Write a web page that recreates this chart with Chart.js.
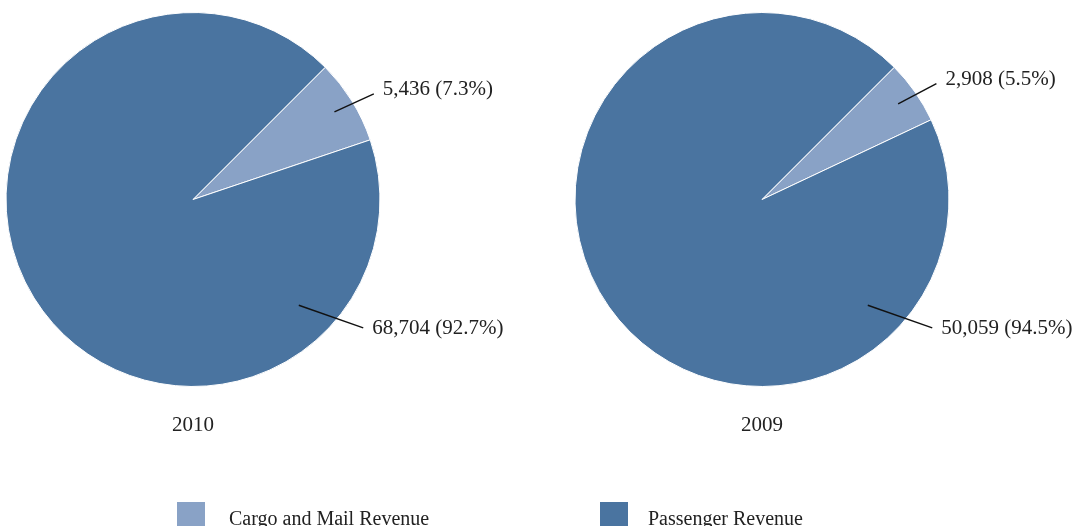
<!DOCTYPE html>
<html>
<head>
<meta charset="utf-8">
<script src="https://cdn.jsdelivr.net/npm/chart.js@4/dist/chart.umd.min.js"></script>
<style>
  html, body { margin: 0; padding: 0; background: #fff; }
  #page { position: relative; width: 1075px; height: 526px; overflow: hidden; font-family: "Liberation Serif", "DejaVu Serif", serif; color: #222; }
  .pie { position: absolute; top: 0; }
  #legend { position: absolute; left: 0; top: 0; width: 1075px; height: 526px; pointer-events: none; }
  .item { position: absolute; top: 502px; height: 28px; }
  .swatch { position: absolute; left: 0; top: 0; width: 28px; height: 28px; }
  .item span { position: absolute; top: 2px; font-size: 20px; line-height: 28px; white-space: nowrap; }
</style>
</head>
<body>
<div id="page">
  <canvas id="pieLeft" class="pie" width="540" height="526" style="left:0"></canvas>
  <canvas id="pieRight" class="pie" width="535" height="526" style="left:540px"></canvas>
  <div id="legend"></div>
</div>
<script>
const years = ['2010', '2009'];
const categories = ['Cargo and Mail Revenue', 'Passenger Revenue'];
const revenue2010 = [5436, 68704];
const revenue2009 = [2908, 50059];
const sliceColors = ['#89a2c6', '#4a74a0'];

const serif = '"Liberation Serif", "DejaVu Serif", serif';

// value + share labels with a short leader line, and the year under the pie
const leaderLabels = {
  id: 'leaderLabels',
  afterDatasetsDraw(chart, args, opts) {
    const ctx = chart.ctx;
    const values = chart.data.datasets[0].data;
    const total = values.reduce((a, b) => a + b, 0);
    const arcs = chart.getDatasetMeta(0).data;
    let cx = 0, cy = 0, r = 0;
    ctx.save();
    ctx.font = '21px ' + serif;
    ctx.fillStyle = '#222';
    ctx.strokeStyle = '#111';
    ctx.lineWidth = 1.4;
    arcs.forEach((arc, i) => {
      const p = arc.getProps(['x', 'y', 'startAngle', 'endAngle', 'outerRadius'], true);
      cx = p.x; cy = p.y; r = p.outerRadius;
      const spec = opts.leaders[i];
      const a = spec.angle == null ? (p.startAngle + p.endAngle) / 2 : spec.angle * Math.PI / 180;
      const b = a + spec.turn * Math.PI / 180;
      const x1 = cx + Math.cos(a) * r * spec.inner;
      const y1 = cy + Math.sin(a) * r * spec.inner;
      const x2 = cx + Math.cos(b) * r * spec.outer;
      const y2 = cy + Math.sin(b) * r * spec.outer;
      ctx.beginPath();
      ctx.moveTo(x1, y1);
      ctx.lineTo(x2, y2);
      ctx.stroke();
      const pct = (values[i] / total * 100).toFixed(1);
      const text = values[i].toLocaleString('en-US') + ' (' + pct + '%)';
      ctx.textAlign = 'left';
      ctx.textBaseline = y2 < cy ? 'alphabetic' : 'middle';
      ctx.fillText(text, x2 + 9, y2 + 1);
    });
    ctx.textAlign = 'center';
    ctx.textBaseline = 'alphabetic';
    ctx.fillText(opts.year, cx, cy + r + 44);
    ctx.restore();
  }
};

function makePie(id, year, values, padding) {
  return new Chart(document.getElementById(id), {
    type: 'pie',
    data: {
      labels: categories,
      datasets: [{
        data: values,
        backgroundColor: sliceColors,
        borderColor: '#ffffff',
        borderWidth: 1
      }]
    },
    options: {
      responsive: false,
      animation: false,
      events: [],
      rotation: 45,
      layout: { padding: padding },
      plugins: {
        legend: { display: false },
        tooltip: { enabled: false },
        leaderLabels: {
          year: year,
          leaders: [
            { angle: null, inner: 0.89, outer: 1.12, turn: 1.5 },
            { angle: 45, inner: 0.8, outer: 1.14, turn: -8 }
          ]
        }
      }
    },
    plugins: [leaderLabels]
  });
}

makePie('pieLeft', years[0], revenue2010, { left: 5.5, top: 12, right: 159.5, bottom: 139 });
makePie('pieRight', years[1], revenue2009, { left: 34.5, top: 12, right: 125.5, bottom: 139 });

// shared legend under both pies
const legendX = [177, 600];
const legendTextGap = [52, 48];
const legend = document.getElementById('legend');
categories.forEach((name, i) => {
  const item = document.createElement('div');
  item.className = 'item';
  item.style.left = legendX[i] + 'px';
  item.innerHTML = '<div class="swatch" style="background:' + sliceColors[i] + '"></div>' +
    '<span style="left:' + legendTextGap[i] + 'px">' + name + '</span>';
  legend.appendChild(item);
});
</script>
</body>
</html>
